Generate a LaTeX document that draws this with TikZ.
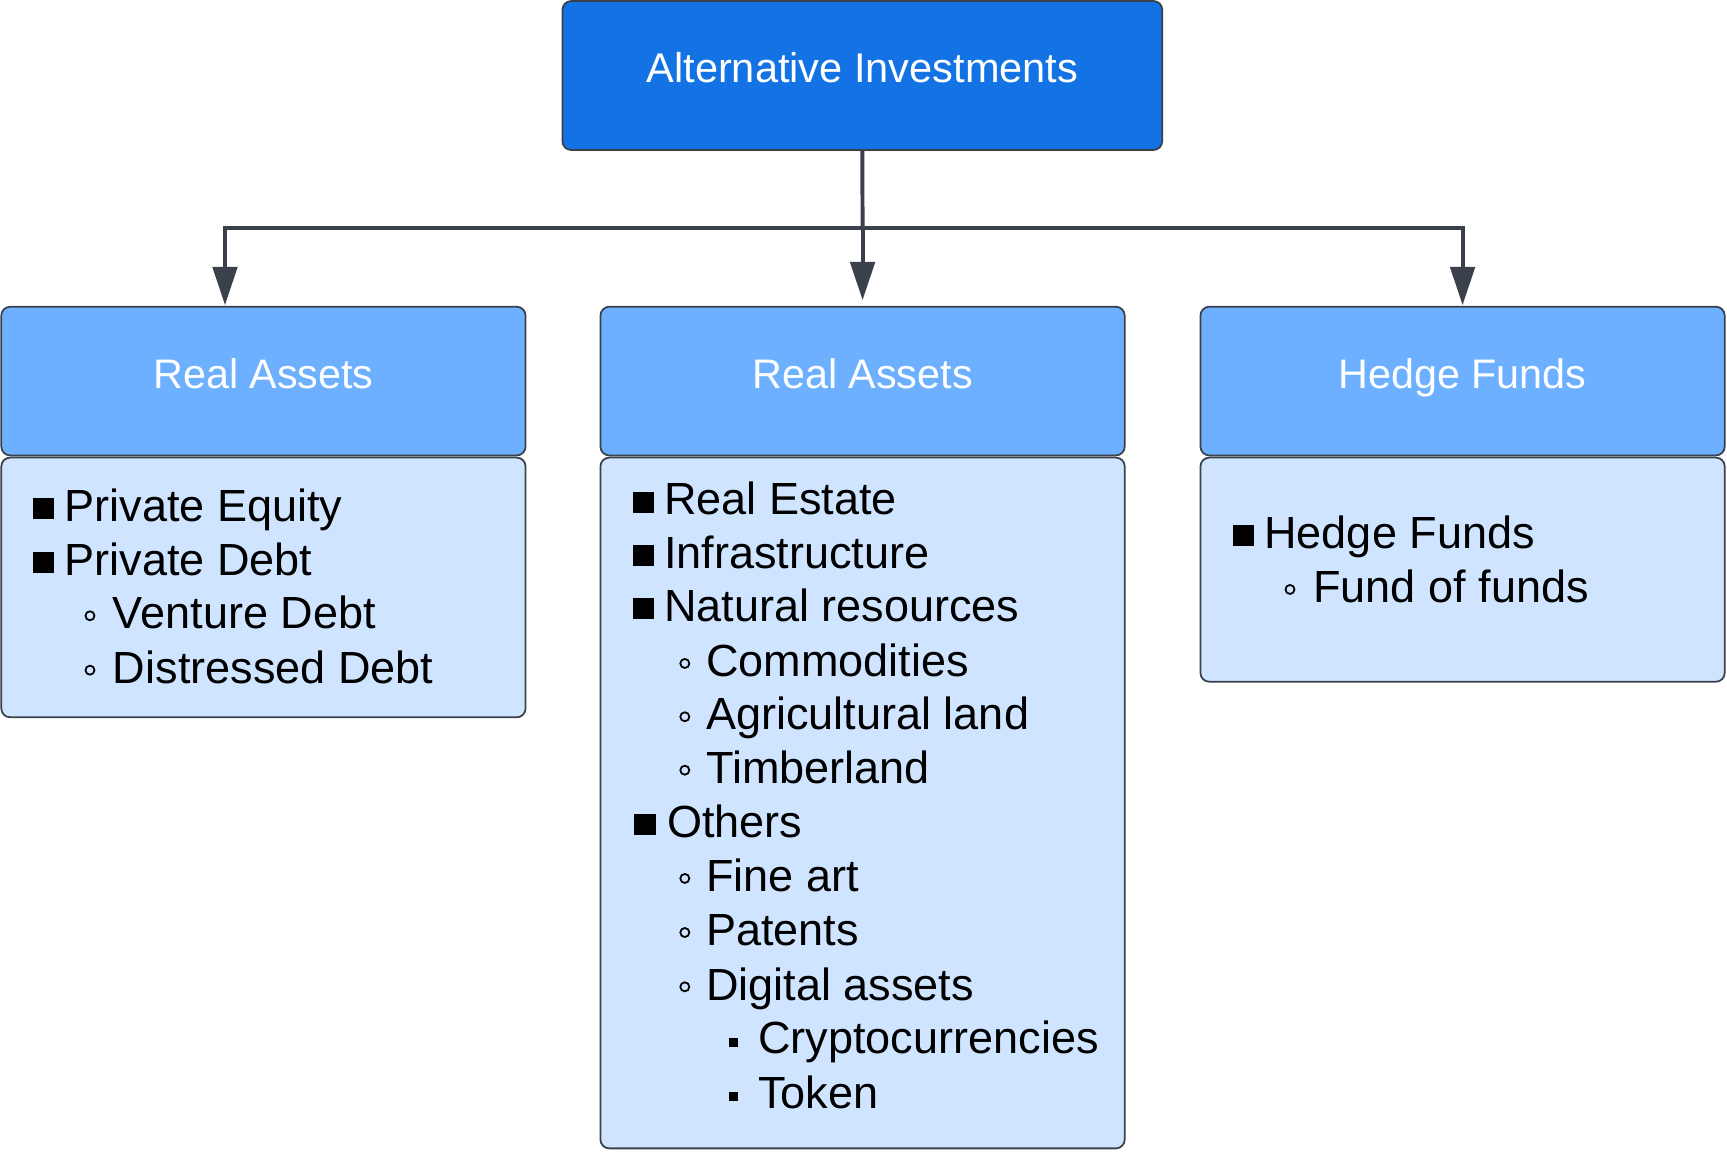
\documentclass[tikz,border=0pt]{standalone}
\usepackage{fontspec}
\setmainfont{Liberation Sans}
\usetikzlibrary{arrows.meta}
\definecolor{topblue}{RGB}{19,115,228}
\definecolor{hdrblue}{RGB}{108,176,255}
\definecolor{bodyblue}{RGB}{207,228,255}
\definecolor{edgegray}{RGB}{58,65,74}
\newcommand\BulSq[2]{\fill (#1,{#2-21.2}) rectangle ({#1+19.5},{#2-2.2});}
\newcommand\BulCirc[2]{\draw[line width=1.6pt] (#1,{#2-12}) circle (4.1);}
\newcommand\BulSmall[2]{\fill (#1,{#2-14.75}) rectangle ({#1+8.1},{#2-6.65});}
\begin{document}
\begin{tikzpicture}[x=1pt,y=-1pt,
  box/.style={draw=edgegray, line width=1.6pt, rounded corners=8pt, inner sep=0pt, outer sep=0pt, anchor=north west, minimum width=476pt},
  topbox/.style={box, fill=topblue, text=white, font=\fontsize{37.7}{44}\selectfont, text height=27pt, text depth=14pt, minimum width=544.6pt, minimum height=135.3pt},
  hdr/.style={box, fill=hdrblue, text=white, font=\fontsize{37.5}{44}\selectfont, text height=27pt, text depth=14pt, minimum height=135pt},
  bodybox/.style={box, fill=bodyblue},
  item/.style={anchor=base west, inner sep=0pt, outer sep=0pt, font=\fontsize{40.9}{49}\selectfont},
  conn/.style={draw=edgegray, line width=3.6pt},
  arr/.style={conn, -{Triangle[length=34.8pt,width=22.2pt]}}
]
\useasboundingbox (0,0) rectangle (1568.1,1045.1);

% boxes
\node[topbox] (top) at (510.7,0.9) {Alternative Investments};
\node[hdr] (h1) at (1.2,278.5) {Real Assets};
\node[hdr] (h2) at (545.2,278.5) {Real Assets};
\node[hdr] (h3) at (1090,278.5) {Hedge Funds};
\node[bodybox, minimum height=235.8pt] (b1) at (1.2,415.5) {};
\node[bodybox, minimum height=627.2pt] (b2) at (545.2,415.5) {};
\node[bodybox, minimum height=203.5pt] (b3) at (1090,415.5) {};

% connectors
\coordinate (j) at (783.2,206.7);
\coordinate (t1) at (204.3,278.5);
\draw[conn] (top.south) -- (j);
\draw[arr, shorten >=6pt] (j) -- (h2.north);
\draw[arr, shorten >=1.5pt, line join=miter] (j) -| (t1);
\draw[arr, shorten >=1.5pt, line join=miter] (j) -| (h3.north);

% left list
\BulSq{29.8}{473.7}
\node[item] (pe) at (58.6,473.7) {Private Equity};
\BulSq{29.8}{522.1}
\node[item] (pd) at (58.6,522.1) {Private Debt};
\BulCirc{81.7}{571.1}
\node[item] (vd) at (102.6,571.1) {Venture Debt};
\BulCirc{81.7}{620.5}
\node[item] (dd) at (102.6,620.5) {Distressed Debt};

% middle list
\BulSq{574.5}{467.6}
\node[item] (re) at (603,467.6) {Real Estate};
\BulSq{574.5}{516.0}
\node[item] (inf) at (603,516.0) {Infrastructure};
\BulSq{574.5}{564.5}
\node[item] (nr) at (603,564.5) {Natural resources};
\BulCirc{621.8}{614.4}
\node[item] (com) at (641.2,614.4) {Commodities};
\BulCirc{621.8}{662.8}
\node[item] (agr) at (641.2,662.8) {Agricultural land};
\BulCirc{621.8}{711.3}
\node[item] (tim) at (641.2,711.3) {Timberland};
\BulSq{576}{760.5}
\node[item] (oth) at (605.8,760.5) {Others};
\BulCirc{621.8}{809.6}
\node[item] (fa) at (641.2,809.6) {Fine art};
\BulCirc{621.8}{858.7}
\node[item] (pat) at (641.2,858.7) {Patents};
\BulCirc{621.8}{908.0}
\node[item] (dig) at (641.2,908.0) {Digital assets};
\BulSmall{662.2}{957.0}
\node[item] (cry) at (688.5,957.0) {Cryptocurrencies};
\BulSmall{662.2}{1006.4}
\node[item] (tok) at (688.5,1006.4) {Token};

% right list
\BulSq{1119.3}{497.9}
\node[item] (hf) at (1148,497.9) {Hedge Funds};
\BulCirc{1171.3}{547.2}
\node[item] (fof) at (1192.5,547.2) {Fund of funds};
\end{tikzpicture}
\end{document}
